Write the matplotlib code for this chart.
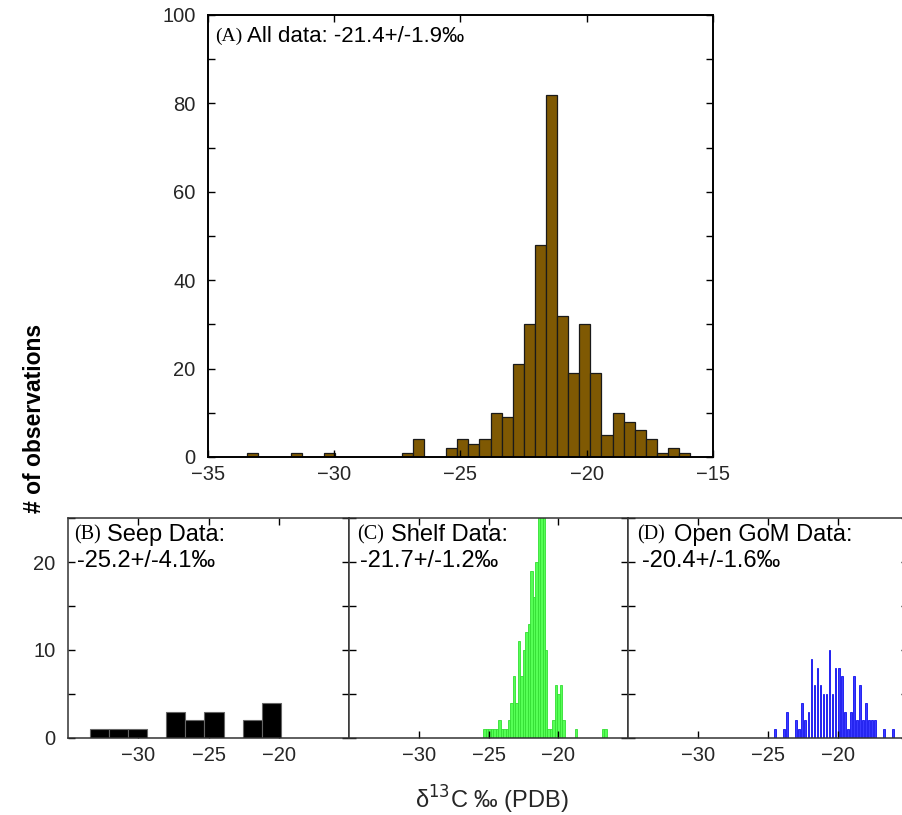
import numpy as np
import matplotlib
matplotlib.use("Agg")
import matplotlib.pyplot as plt
from matplotlib.ticker import MultipleLocator

plt.rcParams['font.family'] = ['Liberation Sans', 'DejaVu Sans']

# (A) all data, 40 bins
all_lo, all_hi = -33.47, -15.90
all_counts = [1, 0, 0, 0, 1, 0, 0, 1, 0, 0,
              0, 0, 0, 0, 1, 4, 0, 0, 2, 4,
              3, 4, 10, 9, 21, 30, 48, 82, 32, 19,
              30, 19, 5, 10, 8, 6, 4, 1, 2, 1]

# (B) seep data, 10 bins
seep_lo, seep_hi = -33.43, -19.86
seep_counts = [1, 1, 1, 0, 3, 2, 3, 0, 2, 4]

# (C) shelf data, 50 bins
shelf_lo, shelf_hi = -25.37, -16.53
shelf_counts = [1, 1, 1, 1, 1, 1, 2, 1, 1, 1,
                2, 4, 7, 4, 11, 7, 10, 12, 13, 19,
                16, 20, 28, 31, 27, 10, 1, 1, 2, 6,
                5, 6, 2, 0, 0, 0, 0, 1, 0, 0,
                0, 0, 0, 0, 0, 0, 0, 0, 1, 1]

# (D) open GoM data, 40 bins
open_lo, open_hi = -24.61, -15.94
open_counts = [1, 0, 0, 1, 3, 0, 0, 2, 1, 4,
               2, 3, 9, 6, 8, 6, 5, 5, 10, 5,
               8, 8, 7, 3, 1, 3, 7, 2, 6, 2,
               4, 2, 2, 2, 0, 0, 1, 0, 0, 1]

titles = ["Seep Data:", "Shelf Data:", "Open GoM Data:"]
subtitles = ["-25.2+/-4.1\u2030", "-21.7+/-1.2\u2030", "-20.4+/-1.6\u2030"]
letters = ["(B)", "(C)", "(D)"]


def draw_hist(ax, lo, hi, counts, frac=1.0, **kw):
    edges = np.linspace(lo, hi, len(counts) + 1)
    w = edges[1] - edges[0]
    centers = edges[:-1] + w / 2
    ax.bar(centers, counts, width=w * frac, align='center', **kw)


def style_axes(ax, lw=1.2, color='black'):
    for s in ax.spines.values():
        s.set_linewidth(lw)
        s.set_color(color)
    ax.tick_params(which='both', direction='in', top=True, right=True,
                   length=5, width=1, labelsize=14.5, labelcolor='#262626',
                   pad=6)
    ax.tick_params(axis='y', pad=9)


fig = plt.figure(figsize=(9.03, 8.15), dpi=100)

# main panel
ax = fig.add_axes([0.2303, 0.4393, 0.5592, 0.5423])
draw_hist(ax, all_lo, all_hi, all_counts, facecolor='#7f5903',
          edgecolor='#1a1a1a', linewidth=0.9)
ax.set_xlim(-35, -15)
ax.set_ylim(0, 100)
ax.xaxis.set_major_locator(MultipleLocator(5))
ax.yaxis.set_major_locator(MultipleLocator(20))
ax.yaxis.set_minor_locator(MultipleLocator(10))
style_axes(ax, lw=1.4)
ax.text(0.014, 0.952, "(A)", transform=ax.transAxes, fontsize=14,
        family='Liberation Serif', va='center', ha='left')
ax.text(0.077, 0.952, "All data: -21.4+/-1.9\u2030", transform=ax.transAxes,
        fontsize=16, va='center', ha='left')

# bottom panels
lefts = [0.0753, 0.3865, 0.6955]
widths = [0.3112, 0.3090, 0.3100]
data = [(seep_lo, seep_hi, seep_counts, 1.0,
         dict(facecolor='black', edgecolor='#666666', linewidth=0.8)),
        (shelf_lo, shelf_hi, shelf_counts, 1.0,
         dict(facecolor='#55ff55', edgecolor='#33dd33', linewidth=0.6)),
        (open_lo, open_hi, open_counts, 0.55,
         dict(facecolor='#3a3aff', edgecolor='#1010ee', linewidth=0.6))]
letter_x = [0.022, 0.030, 0.034]
title_x = [0.139, 0.150, 0.164]
sub_x = [0.032, 0.039, 0.050]

for i in range(3):
    bx = fig.add_axes([lefts[i], 0.0945, widths[i], 0.2699])
    lo, hi, cnt, frac, kw = data[i]
    draw_hist(bx, lo, hi, cnt, frac=frac, **kw)
    bx.set_xlim(-35, -15)
    bx.set_ylim(0, 25)
    bx.set_xticks([-30, -25, -20])
    bx.yaxis.set_major_locator(MultipleLocator(10))
    bx.yaxis.set_minor_locator(MultipleLocator(5))
    style_axes(bx, lw=1.1, color='#333333')
    if i > 0:
        bx.tick_params(labelleft=False)
    bx.text(letter_x[i], 0.925, letters[i], transform=bx.transAxes,
            fontsize=14.5, family='Liberation Serif', va='center', ha='left')
    bx.text(title_x[i], 0.925, titles[i], transform=bx.transAxes,
            fontsize=17, va='center', ha='left')
    bx.text(sub_x[i], 0.805, subtitles[i], transform=bx.transAxes,
            fontsize=17, va='center', ha='left')

fig.text(0.038, 0.487, "# of observations", rotation=90, fontsize=16.5,
         fontweight='bold', va='center', ha='center')
fig.text(0.545, 0.018, "\u03b4$^{13}$C \u2030 (PDB)", fontsize=17,
         va='center', ha='center', color='#262626')

fig.savefig("out.png", dpi=100)
